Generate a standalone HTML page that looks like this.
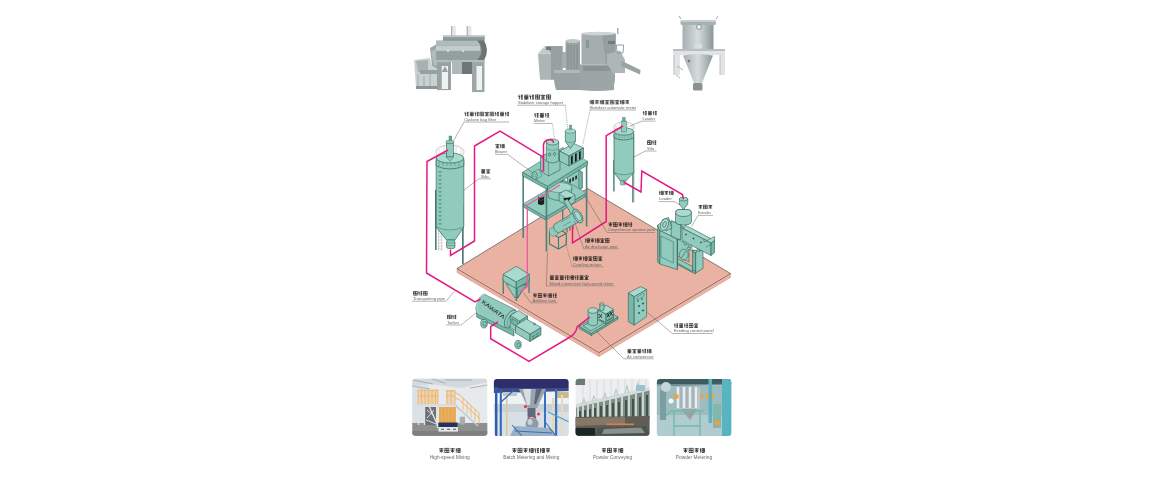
<!DOCTYPE html>
<html><head><meta charset="utf-8">
<style>
html,body{margin:0;padding:0;background:#fff;width:1150px;height:480px;overflow:hidden}
svg{display:block}
text{font-family:"Liberation Sans",sans-serif}
</style></head><body>
<svg width="1150" height="480" viewBox="0 0 1150 480">
<defs>
<symbol id="h0" viewBox="0 0 10 10"><path d="M1 2.2h8M5 1v8.5M1.5 5h7M2 8.5l2.5-2.5M8 8.5l-2.5-2.5" stroke="#222" stroke-width="1.45" fill="none"/></symbol>
<symbol id="h1" viewBox="0 0 10 10"><path d="M1.5 1v8.5M0.8 4h2.2M4.5 1.5h4.5v7.5h-4.5zM4.5 5.2h4.5M6.8 1.5v7.5" stroke="#222" stroke-width="1.45" fill="none"/></symbol>
<symbol id="h2" viewBox="0 0 10 10"><path d="M5 0.5v1.6M1 3.2v-1.1h8v1.1M2 4.8h6M2 7h6M1 9.2h8M5 3.5v5.7" stroke="#222" stroke-width="1.45" fill="none"/></symbol>
<symbol id="h3" viewBox="0 0 10 10"><path d="M1 1.5h8M2 3.5h6v4h-6zM2 5.5h6M5 3.5v6M1 9.2h8" stroke="#222" stroke-width="1.45" fill="none"/></symbol>
<symbol id="h4" viewBox="0 0 10 10"><path d="M2.5 0.8l-1.5 3M1 4.2h3M2.5 4v5.5M5 1.8h4M5 5h4M7 1v8.5M5 8.8h4" stroke="#222" stroke-width="1.45" fill="none"/></symbol>
<symbol id="h5" viewBox="0 0 10 10"><path d="M1 1.2h8v8h-8zM1 5.2h8M5 1.2v8M2.5 3l1 0.8M6.5 7l1 0.8" stroke="#222" stroke-width="1.45" fill="none"/></symbol>
<clipPath id="c1"><rect x="412.3" y="378.8" width="75" height="56.9" rx="3.2"/></clipPath>
<clipPath id="c2"><rect x="493.9" y="379" width="74.7" height="56.9" rx="3.2"/></clipPath>
<clipPath id="c3"><rect x="575.6" y="378.8" width="74" height="56.9" rx="3.2"/></clipPath>
<clipPath id="c4"><rect x="656.9" y="379" width="74.3" height="56.9" rx="3.2"/></clipPath>
<filter id="soft" x="-5%" y="-5%" width="110%" height="110%"><feGaussianBlur stdDeviation="0.35"/></filter>
<filter id="soft2" x="-2%" y="-2%" width="104%" height="104%"><feGaussianBlur stdDeviation="0.45"/></filter>
<linearGradient id="gm" x1="0" x2="1" y1="0" y2="0"><stop offset="0" stop-color="#a5b0b0"/><stop offset="0.5" stop-color="#d6dcdc"/><stop offset="1" stop-color="#8b9696"/></linearGradient>
<linearGradient id="gs" x1="0" x2="1" y1="0" y2="0"><stop offset="0" stop-color="#8e9aa0"/><stop offset="0.4" stop-color="#dfe5e8"/><stop offset="1" stop-color="#7d878c"/></linearGradient>
</defs>
<rect width="1150" height="480" fill="#fff"/>
<g id="topmachines" stroke="none" filter="url(#soft)">
<!-- ribbon mixer -->
<path d="M430,48 L437,44 L441,62 L439,70 L432,66 Z" fill="#9ca7a7"/>
<path d="M431,52 L436,49 L439,64 L434,66 Z" fill="#b2bcbc"/>
<path d="M414,60 L430,58 L432,66 L439,70 L439,88 L416,88 Z" fill="#cad1d1"/>
<path d="M416,61 L428,60 L428,72 L418,72 Z" fill="#a8b2b2"/>
<rect x="420" y="70" width="18" height="4" fill="#98a0a0"/>
<path d="M418,74v14 M424,76v12 M430,74v14" stroke="#9ca5a5" stroke-width="0.9"/>
<rect x="416" y="86" width="28" height="3" fill="#8c9595"/>
<rect x="451" y="26" width="4.8" height="9.6" rx="1" fill="#e2e7e7"/><rect x="451" y="26" width="1.2" height="9.6" fill="#a9b2b2"/>
<rect x="466.7" y="26" width="4.7" height="9.6" rx="1" fill="#e2e7e7"/><rect x="466.7" y="26" width="1.2" height="9.6" fill="#a9b2b2"/>
<rect x="443" y="35.6" width="41.7" height="5.4" fill="#8e9898"/>
<rect x="443" y="35.6" width="41.7" height="1.6" fill="#bcc4c4"/>
<path d="M436,40.5 L482,40.5 Q486,50 482,60.6 L436,60.6 Z" fill="#9aa5a5"/>
<rect x="436" y="41" width="44" height="4.5" fill="#b2bbbb"/>
<rect x="436" y="45.8" width="44" height="5" fill="#c4cbcb"/>
<rect x="436" y="51" width="44" height="9.6" fill="#949f9f"/>
<circle cx="448" cy="51" r="0.9" fill="#e9ecec"/><circle cx="463" cy="51" r="0.9" fill="#e9ecec"/>
<path d="M477,40.5 Q486,50 477,60.6 L484,60.6 Q490,50 484,40.5 Z" fill="#6a7474"/>
<rect x="437" y="60.6" width="14" height="29.5" fill="#98a2a2"/>
<path d="M441.7,66 L448,66 L448,89 L441.7,89 Z" fill="#f0f2f2"/>
<path d="M441.7,72 L445,66 L448,72" fill="#98a2a2"/>
<rect x="472" y="60.6" width="12.5" height="31.5" fill="#9da7a7"/>
<rect x="476.5" y="66" width="5.5" height="24" fill="#f0f2f2"/>
<rect x="436" y="60" width="49" height="2.2" fill="#b3bcbc"/>
<rect x="452" y="62" width="10" height="12" fill="#b0b9b9"/>
<rect x="462" y="62" width="10" height="12" fill="#6e7575"/>
<!-- high speed mixer -->
<path d="M545,46 L562.7,46 L562.7,79.7 L551,79.7 L551,53.4 Z" fill="#98a1a1"/>
<path d="M538,53.4 L551,53.4 L551,79.7 L540,79.7 Z" fill="#adb5b5"/>
<path d="M545,46 L551,53.4 L538,53.4 Z" fill="#c1c9c9"/>
<rect x="546" y="47" width="5" height="3" fill="#717b7b"/>
<path d="M554,70 L614,70 Q617,80 612,90 L556,90 Q553,80 554,70 Z" fill="#99a3a3"/>
<rect x="554" y="70" width="60" height="3" fill="#b0b9b9"/>
<rect x="565.6" y="41" width="14.4" height="29" fill="#98a2a2"/>
<ellipse cx="572.8" cy="41" rx="7.2" ry="2" fill="#c0c8c8"/>
<path d="M568,45v24 M571,45v24 M574,45v24 M577,45v24" stroke="#7e8888" stroke-width="0.8"/>
<rect x="562" y="52" width="4" height="16" fill="#a6aeae"/>
<path d="M581.5,33.5 Q598.5,31 615.7,33.5 L615.7,64.4 L581.5,64.4 Z" fill="#a5aeae"/>
<path d="M602,33 Q609,33 615.7,33.5 L615.7,64.4 L606,64.4 Z" fill="#959f9f"/>
<ellipse cx="598.6" cy="33.5" rx="17.1" ry="1.8" fill="#cfd5d5"/>
<rect x="608" y="41" width="7" height="3" fill="#727b7b"/>
<rect x="586" y="40" width="3" height="8" fill="#8b9595"/>
<path d="M580,64.4 L614,64.4 L614,90 Q597,92 580,90 Z" fill="#9ca6a6"/>
<rect x="583" y="66" width="28" height="5" fill="#8a9494"/>
<path d="M607,54 L620,50.5 L625,60 L625,73 L613,73 L607,64 Z" fill="#aeb6b6"/>
<path d="M616.4,45 L623.7,45 L623,53 L617,53 Z" fill="none" stroke="#8b9595" stroke-width="0.9"/>
<path d="M622,61 L640.5,70 L640,74.5 L621,66 Z" fill="#99a3a3"/>
<rect x="617" y="28" width="1.5" height="6" fill="#a6aeae"/>
<!-- vertical cooler -->
<path d="M682.5,23 Q698,20 713.5,23 L713.5,50 L682.5,50 Z" fill="url(#gm)"/>
<rect x="680.5" y="20.3" width="35.5" height="4.7" rx="1.5" fill="#a9b2b2"/>
<rect x="680.5" y="20.3" width="35.5" height="1.5" fill="#ccd3d3"/>
<path d="M681,19 L679,16 M716,19 L718,16" stroke="#98a0a0" stroke-width="0.9"/>
<circle cx="699" cy="27" r="2.4" fill="#f1f4f4" stroke="#7c8585" stroke-width="0.9"/>
<rect x="695" y="44" width="7" height="4" fill="#dae0e0"/>
<path d="M673,49 L725,49 L725,75 L720,75 L720,55 L680,55 L680,75 L674,75 Z" fill="#e0e4e4"/>
<path d="M673,49 L725,49 L725,51 L673,51 Z" fill="#b7bfbf"/>
<path d="M674,55v20 M720,55v20" stroke="#a6aeae" stroke-width="0.7"/>
<path d="M683,55.5 Q698,53 713,55.5 L702,83 L694,83 Z" fill="url(#gm)"/>
<circle cx="689" cy="61" r="1.3" fill="#6d7777"/>
<rect x="693" y="83" width="9.5" height="7.5" rx="1.5" fill="#899393"/>
<path d="M677,66 L683,70 M676,75 L680,78" stroke="#a6aeae" stroke-width="0.9"/>
</g><g id="platform" stroke-linejoin="round">
<polygon points="457,268.5 599,352.5 599,356.5 457,272.5" fill="#eeb1a1" stroke="#c99084" stroke-width="0.5"/>
<polygon points="599,352.5 730.5,273.5 730.5,277.5 599,356.5" fill="#eeb1a1" stroke="#c99084" stroke-width="0.5"/>
<polygon points="457,268.5 587.5,188.5 730.5,273.5 599,352.5" fill="#e9b2a2" stroke="#3b3b3b" stroke-width="0.6"/>
<polyline points="459,268.8 599,351.5 728.5,273.7" fill="none" stroke="#f2c2b4" stroke-width="0.6"/>
</g><g id="silo1">
<rect x="435" y="190" width="1.6" height="60" fill="#4a7d73"/>
<ellipse cx="450" cy="152" rx="14.2" ry="7" fill="none" stroke="#8a8a8a" stroke-width="0.45"/>
<path d="M439,149v7M444,146v8M456,146v8M461,149v7" stroke="#999" stroke-width="0.35"/>
<rect x="462" y="206" width="1.7" height="58" fill="#4a7d73"/>
<path d="M438.5,228v23M441.8,228v23M438.5,231h3.3M438.5,234h3.3M438.5,237h3.3M438.5,240h3.3M438.5,243h3.3M438.5,246h3.3M438.5,249h3.3" stroke="#9a9a9a" stroke-width="0.45" fill="none"/>
<path d="M436.2,160 L436.2,227 L446.5,240 L455,240 L463.8,227 L463.8,160 Z" fill="#90cbbe" stroke="#2f5c54" stroke-width="0.65"/>
<path d="M436.2,227 Q450,233 463.8,227" fill="none" stroke="#2f5c54" stroke-width="0.4"/>
<rect x="438.6" y="171" width="2.8" height="1.6" fill="#5e9a8d"/><rect x="438.6" y="175" width="2.8" height="1.6" fill="#5e9a8d"/><rect x="438.6" y="179" width="2.8" height="1.6" fill="#5e9a8d"/><rect x="438.6" y="183" width="2.8" height="1.6" fill="#5e9a8d"/><rect x="438.6" y="187" width="2.8" height="1.6" fill="#5e9a8d"/><rect x="438.6" y="191" width="2.8" height="1.6" fill="#5e9a8d"/><rect x="438.6" y="195" width="2.8" height="1.6" fill="#5e9a8d"/><rect x="438.6" y="199" width="2.8" height="1.6" fill="#5e9a8d"/><rect x="438.6" y="203" width="2.8" height="1.6" fill="#5e9a8d"/><rect x="438.6" y="207" width="2.8" height="1.6" fill="#5e9a8d"/><rect x="438.6" y="211" width="2.8" height="1.6" fill="#5e9a8d"/><rect x="438.6" y="215" width="2.8" height="1.6" fill="#5e9a8d"/><rect x="438.6" y="219" width="2.8" height="1.6" fill="#5e9a8d"/><rect x="438.6" y="223" width="2.8" height="1.6" fill="#5e9a8d"/>
<rect x="446.5" y="240" width="8.5" height="8.5" rx="2" fill="#90cbbe" stroke="#2f5c54" stroke-width="0.6"/>
<path d="M446.5,243h8.5M446.5,245.5h8.5" stroke="#2f5c54" stroke-width="0.35"/>
<path d="M436.2,158 L463.8,158 L463.8,166 Q450,172 436.2,166 Z" fill="#90cbbe" stroke="#2f5c54" stroke-width="0.65"/>
<line x1="439" y1="159.5" x2="439" y2="166" stroke="#2f5c54" stroke-width="0.35"/><line x1="443" y1="159.5" x2="443" y2="166" stroke="#2f5c54" stroke-width="0.35"/><line x1="447" y1="159.5" x2="447" y2="166" stroke="#2f5c54" stroke-width="0.35"/><line x1="451" y1="159.5" x2="451" y2="166" stroke="#2f5c54" stroke-width="0.35"/><line x1="455" y1="159.5" x2="455" y2="166" stroke="#2f5c54" stroke-width="0.35"/><line x1="459" y1="159.5" x2="459" y2="166" stroke="#2f5c54" stroke-width="0.35"/>
<ellipse cx="450" cy="158" rx="13.8" ry="5" fill="#a9dacf" stroke="#2f5c54" stroke-width="0.65"/>
<rect x="446.5" y="143" width="6.8" height="14" fill="#90cbbe" stroke="#2f5c54" stroke-width="0.6"/>
<path d="M446.5,157 L450,161.5 L453.3,157 Z" fill="#90cbbe" stroke="#2f5c54" stroke-width="0.4"/>
<rect x="446" y="140.5" width="7.8" height="2.8" rx="1" fill="#90cbbe" stroke="#2f5c54" stroke-width="0.4"/>
<rect x="449" y="136" width="2.8" height="4.6" fill="#6aa698" stroke="#2f5c54" stroke-width="0.35"/>
</g><g id="silo2">
<rect x="613.2" y="160" width="1.4" height="31.5" fill="#4a7d73"/>
<ellipse cx="624" cy="127" rx="10.2" ry="5" fill="none" stroke="#8a8a8a" stroke-width="0.45"/>
<path d="M616,125v6M620,123v7M628,123v7M632,125v6" stroke="#999" stroke-width="0.35"/>
<rect x="632.2" y="138" width="1.4" height="64.5" fill="#4a7d73"/>
<path d="M633.5,139h1.3M633.5,141h1.3M633.5,143h1.3M633.5,145h1.3M633.5,147h1.3M633.5,149h1.3M633.5,151h1.3M633.5,153h1.3M633.5,155h1.3M633.5,157h1.3M633.5,159h1.3M633.5,161h1.3M633.5,163h1.3M633.5,165h1.3M633.5,167h1.3M633.5,169h1.3M633.5,171h1.3M633.5,173h1.3M633.5,175h1.3M633.5,177h1.3M633.5,179h1.3M633.5,181h1.3M633.5,183h1.3M633.5,185h1.3M633.5,187h1.3M633.5,189h1.3M633.5,191h1.3M633.5,193h1.3M633.5,195h1.3M633.5,197h1.3M633.5,199h1.3M633.5,201h1.3" stroke="#4a7d73" stroke-width="0.5"/>
<path d="M614,134 L614,172.5 L620.3,181 L625.7,181 L633.7,172.5 L633.7,134 Z" fill="#90cbbe" stroke="#2f5c54" stroke-width="0.65"/>
<path d="M614,172.5 Q624,177 633.7,172.5" fill="none" stroke="#2f5c54" stroke-width="0.4"/>
<rect x="620.3" y="181" width="5.4" height="4" rx="1.2" fill="#90cbbe" stroke="#2f5c54" stroke-width="0.4"/>
<path d="M614,131.5 L633.7,131.5 L633.7,138 Q624,142 614,138 Z" fill="#90cbbe" stroke="#2f5c54" stroke-width="0.65"/>
<line x1="616" y1="133" x2="616" y2="138.5" stroke="#2f5c54" stroke-width="0.3"/><line x1="619" y1="133" x2="619" y2="138.5" stroke="#2f5c54" stroke-width="0.3"/><line x1="622" y1="133" x2="622" y2="138.5" stroke="#2f5c54" stroke-width="0.3"/><line x1="625" y1="133" x2="625" y2="138.5" stroke="#2f5c54" stroke-width="0.3"/><line x1="628" y1="133" x2="628" y2="138.5" stroke="#2f5c54" stroke-width="0.3"/><line x1="631" y1="133" x2="631" y2="138.5" stroke="#2f5c54" stroke-width="0.3"/>
<ellipse cx="623.9" cy="131.5" rx="9.85" ry="3.6" fill="#a9dacf" stroke="#2f5c54" stroke-width="0.6"/>
<rect x="621.4" y="121" width="5.1" height="11" fill="#90cbbe" stroke="#2f5c54" stroke-width="0.4"/>
<rect x="622.6" y="117.5" width="2.6" height="3.6" fill="#6aa698" stroke="#2f5c54" stroke-width="0.3"/>
</g><g id="frame" stroke-linejoin="round">
<rect x="562" y="150" width="1.4" height="80" fill="#4f8379"/>
<!-- control box with slots under upper shelf -->
<polygon points="567.5,176 578.7,170 582.2,172 582.2,188 578.7,190 567.5,184" fill="#90cbbe" stroke="#2f5c54" stroke-width="0.6"/>
<polygon points="578.7,170 582.2,172 582.2,188 578.7,190" fill="#77b7a9" stroke="#2f5c54" stroke-width="0.4"/>
<path d="M569.3,179.5 l1.6,-0.9 v3.6 l-1.6,0.9z M572.3,177.8 l1.6,-0.9 v3.6 l-1.6,0.9z M575.3,176.1 l1.6,-0.9 v3.6 l-1.6,0.9z" fill="#1b1b1b"/>
<!-- lower shelf -->
<polygon points="523.1,203.9 545.7,217 545.7,220 523.1,206.9" fill="#77b7a9" stroke="#2f5c54" stroke-width="0.5"/><polygon points="545.7,217 586.6,193 586.6,196 545.7,220" fill="#77b7a9" stroke="#2f5c54" stroke-width="0.5"/><polygon points="523.1,203.9 564.0,179.89999999999998 586.6,193 545.7,217" fill="#90cbbe" stroke="#2f5c54" stroke-width="0.5"/>
<!-- big bowl (high speed mixer) -->
<path d="M546.5,188 Q548,182 559,181 Q571,182 572,188 L570,198 Q559,203 549,198 Z" fill="#90cbbe" stroke="#2f5c54" stroke-width="0.6"/>
<ellipse cx="559.2" cy="187.5" rx="12.6" ry="5" fill="#a9dacf" stroke="#2f5c54" stroke-width="0.4"/>
<!-- mixer box on lower shelf -->
<polygon points="559,194 566,190 575,195 575,202 568,206 559,201" fill="#90cbbe" stroke="#2f5c54" stroke-width="0.6"/>
<polygon points="559,194 568,199 575,195 566,190" fill="#a9dacf" stroke="#2f5c54" stroke-width="0.4"/>
<polygon points="563,198.5 571.6,197 567,203" fill="#151515"/>
<!-- black canister -->
<path d="M538,196 L538,204 Q541.1,206 544.2,204 L544.2,196 Z" fill="#1e1e1e"/>
<ellipse cx="541.1" cy="196" rx="3.1" ry="1.4" fill="#90cbbe" stroke="#2f5c54" stroke-width="0.35"/>
<path d="M538,199.5 Q541.1,201 544.2,199.5" stroke="#888" stroke-width="0.4" fill="none"/>
<!-- legs -->
<rect x="522.4" y="172.8" width="1.6" height="65" fill="#4f8379"/>
<rect x="545.6" y="186.7" width="1.7" height="64.8" fill="#4f8379"/>
<rect x="585.8" y="161.2" width="1.6" height="65.3" fill="#4f8379"/>
<!-- chute -->
<polygon points="563.5,201 567.5,199 575.5,212 571.5,214.5" fill="#90cbbe" stroke="#2f5c54" stroke-width="0.6"/>
<!-- upper shelf -->
<polygon points="522.6,172.3 547.5,186.2 547.5,189.79999999999998 522.6,175.9" fill="#77b7a9" stroke="#2f5c54" stroke-width="0.5"/><polygon points="547.5,186.2 587.6,161.4 587.6,165.0 547.5,189.79999999999998" fill="#77b7a9" stroke="#2f5c54" stroke-width="0.5"/><polygon points="522.6,172.3 562.7,147.50000000000006 587.6,161.4 547.5,186.2" fill="#90cbbe" stroke="#2f5c54" stroke-width="0.5"/>
<polygon points="540.5,157 552,151 560,156 560,170 548.5,176 540.5,171" fill="#90cbbe" stroke="#2f5c54" stroke-width="0.6"/>
<polygon points="540.5,157 548.5,162 560,156 552,151" fill="#a9dacf" stroke="#2f5c54" stroke-width="0.4"/>
<line x1="548.5" y1="162" x2="548.5" y2="176" stroke="#2f5c54" stroke-width="0.4"/>
<path d="M546.3,142 L546.3,161 Q552.5,165 558.7,161 L558.7,142 Z" fill="#90cbbe" stroke="#2f5c54" stroke-width="0.6"/>
<path d="M546.3,148.5 Q552.5,152 558.7,148.5" fill="none" stroke="#2f5c54" stroke-width="0.35"/>
<ellipse cx="552.5" cy="142" rx="6.2" ry="3" fill="#a9dacf" stroke="#2f5c54" stroke-width="0.6"/>
<path d="M549.5,153 a1.2,1.5 0 1 0 0.1,0 M554.5,152.5 a1.2,1.5 0 1 0 0.1,0" fill="none" stroke="#2f5c54" stroke-width="0.65"/>
<polygon points="533,172 539,169 542,176 536,179.5" fill="#90cbbe" stroke="#2f5c54" stroke-width="0.4"/>
<ellipse cx="534.6" cy="175.6" rx="2.7" ry="3.8" fill="#a9dacf" stroke="#2f5c54" stroke-width="0.65"/>
<ellipse cx="534.6" cy="175.6" rx="1.4" ry="2.1" fill="#90cbbe" stroke="#2f5c54" stroke-width="0.35"/>
<polygon points="559.5,151 574,143.5 583.5,148 569,156" fill="#a9dacf" stroke="#2f5c54" stroke-width="0.6"/>
<polygon points="559.5,151 569,156 569,166 559.5,161" fill="#90cbbe" stroke="#2f5c54" stroke-width="0.6"/>
<polygon points="569,156 583.5,148 583.5,158 569,166" fill="#77b7a9" stroke="#2f5c54" stroke-width="0.6"/>
<path d="M571,156.2l1.7,-0.9v8l-1.7,0.9z M575,154l1.7,-0.9v8l-1.7,0.9z M579,151.8l1.7,-0.9v8l-1.7,0.9z" fill="#1b1b1b"/>
<path d="M565.3,131 L565.3,141.5 L570.4,148.4 L575.5,141.5 L575.5,131 Z" fill="#90cbbe" stroke="#2f5c54" stroke-width="0.6"/>
<ellipse cx="570.4" cy="131" rx="5.1" ry="2.2" fill="#a9dacf" stroke="#2f5c54" stroke-width="0.4"/>
<path d="M565.3,141.5 Q570.4,144 575.5,141.5" fill="none" stroke="#2f5c54" stroke-width="0.35"/>
<rect x="569.4" y="125" width="2.2" height="4.5" fill="#6aa698" stroke="#2f5c54" stroke-width="0.3"/>
<!-- cooling mixer -->
<path d="M549.5,232 L557,228 L566.3,233.5 L566.3,244.6 L558.5,249 L549.5,244 Z M549.5,232 L558.5,237.5 L566.3,233.5 M558.5,237.5 V249" fill="none" stroke="#3f7c70" stroke-width="1.1"/>
<polygon points="549.5,229 554,226.5 558.3,229 558.3,234 553.5,236.5 549.5,234" fill="#90cbbe" stroke="#2f5c54" stroke-width="0.4"/>
<path d="M554,224.5 L575.5,211.5 L580.5,221 L558.5,233 Q552,230 554,224.5 Z" fill="#90cbbe" stroke="#2f5c54" stroke-width="0.6"/>
<ellipse cx="577.8" cy="216" rx="3.9" ry="7.6" transform="rotate(-30 577.8 216)" fill="#90cbbe" stroke="#2f5c54" stroke-width="0.65"/>
<ellipse cx="578" cy="216" rx="2.3" ry="5.2" transform="rotate(-30 578 216)" fill="#a9dacf" stroke="#2f5c54" stroke-width="0.45"/>
<path d="M561,222 l9,-5.5 M563,226 l8,-4.5" stroke="#2f5c54" stroke-width="0.4"/>
<path d="M567,228.5 v4 M570,226.8 v4 M573,225 v4" stroke="#2f5c54" stroke-width="0.9"/>
</g><g id="extruder" stroke="#2f5c54" stroke-width="0.6" stroke-linejoin="round">
<!-- right leg -->
<polygon points="695.6,251 703,247 703,268.5 695.6,273" fill="#90cbbe"/>
<polygon points="692.5,249.5 695.6,251 695.6,273 692.5,271.5" fill="#77b7a9"/>
<!-- base rail -->
<polygon points="677.3,262 695.6,271.5 695.6,274 677.3,264.5" fill="#77b7a9"/>
<polygon points="677.3,258.5 692.5,266.5 692.5,271.5 677.3,263" fill="#90cbbe"/>
<!-- centre lower box -->
<polygon points="677.3,239 689,245 689,262 677.3,256" fill="#90cbbe"/>
<ellipse cx="683.8" cy="254.6" rx="4.4" ry="5.3" fill="#90cbbe"/>
<path d="M681.5,258 L686,251" stroke="#2f5c54" stroke-width="0.6"/>
<ellipse cx="689" cy="248.5" rx="1.8" ry="1.4" fill="#90cbbe"/><ellipse cx="695" cy="251.5" rx="1.6" ry="1.3" fill="#90cbbe"/><ellipse cx="700" cy="249.5" rx="1.6" ry="1.3" fill="#90cbbe"/>
<!-- barrel box -->
<polygon points="671.5,221 686,225.5 714.5,240.5 711,243 682,228" fill="#a9dacf"/>
<polygon points="682,228 711,243 711,255.5 682,240.5" fill="#90cbbe"/>
<polygon points="711,243 714.5,240.5 714.5,252.5 711,255.5" fill="#77b7a9"/>
<path d="M684,241.5 l2,1 v3 l-2,-1z M690,244.5 l2,1 v3 l-2,-1z M697,248 l2,1 v3 l-2,-1z" fill="#90cbbe" stroke="#2f5c54" stroke-width="0.4"/>
<polygon points="704,242 714.5,236.5 714.5,240.5 711,243 704,239" fill="#a9dacf"/>
<path d="M706,247 l6,-3.2" stroke="#2f5c54" stroke-width="0.5"/>
<circle cx="686" cy="234.5" r="0.65" fill="#2f5c54"/><circle cx="693.5" cy="238.5" r="0.65" fill="#2f5c54"/><circle cx="701" cy="242.5" r="0.65" fill="#2f5c54"/>
<!-- left cabinet -->
<polygon points="659.7,230.3 677.3,239 677.3,269.6 659.7,264" fill="#90cbbe"/>
<polygon points="657.7,225 659.7,230.3 659.7,264 657.7,262" fill="#77b7a9"/>
<polygon points="661,236 673.3,242 673.3,263 661,257" fill="none" stroke-width="0.5"/>
<polygon points="657.7,225 666,219.5 681,226 681,239.5 677.3,239 659.7,230.3" fill="#a9dacf"/>
<polygon points="671.2,220.8 680.7,225 680.7,239.5 677.3,239 671.2,236" fill="#90cbbe"/>
<line x1="677.3" y1="239" x2="677.3" y2="269.6"/>
<!-- motor disk -->
<polygon points="662,220 668.5,217.5 672,228 666,231" fill="#90cbbe"/>
<ellipse cx="664.5" cy="224.5" rx="3.8" ry="6.2" transform="rotate(20 664.5 224.5)" fill="#a9dacf"/>
<ellipse cx="664.5" cy="224.5" rx="1.6" ry="3" transform="rotate(20 664.5 224.5)" fill="none"/>
<!-- hopper -->
<path d="M675.5,213 Q675.5,210 678.5,209.5 L688.5,209.5 Q691.5,210 691.5,213 L691.5,221 Q691.5,224 688.5,224.5 L678.5,224.5 Q675.5,224 675.5,221 Z" fill="#90cbbe"/>
<path d="M675.5,213 Q675.5,210 678.5,209.5 L688.5,209.5 Q691.5,210 691.5,213 Q690,216.5 683.5,216.5 Q677,216.5 675.5,213 Z" fill="#a9dacf"/>
<path d="M681,224.5 L683.5,228.5 L686,224.5" fill="#90cbbe"/>
<!-- loader -->
<path d="M679.4,199 L679.4,204.5 L681,206 L683.5,210 L686,206 L687.8,204.5 L687.8,199 Z" fill="#90cbbe"/>
<ellipse cx="683.6" cy="199" rx="4.2" ry="1.9" fill="#a9dacf"/>
</g><g id="additive" stroke="#2f5c54" stroke-width="0.6" stroke-linejoin="round">
<rect x="502.6" y="278" width="1.4" height="16" fill="#4f8379" stroke="none"/>
<rect x="528.3" y="278" width="1.4" height="15" fill="#4f8379" stroke="none"/>
<polygon points="506,284 527,284 517.5,298 515,298" fill="#90cbbe"/>
<polygon points="517,287 527,284 517.5,298" fill="#77b7a9"/>
<rect x="515.6" y="285" width="1.5" height="16" fill="#4f8379" stroke="none"/>
<polygon points="503,274.4 516.25,281.9 516.25,288.5 503,281" fill="#90cbbe"/>
<polygon points="516.25,281.9 529.4,274.4 529.4,281 516.25,288.5" fill="#77b7a9"/>
<polygon points="503,274.4 516.25,266.3 529.4,274.4 516.25,281.9" fill="#a9dacf"/>
</g><g id="panel" stroke="#2f5c54" stroke-width="0.6">
<polygon points="628.3,293 634.2,296.5 634.2,325.2 628.3,321.6" fill="#77b7a9"/>
<polygon points="634.2,296.5 646.6,289.5 646.6,316.5 634.2,325.2" fill="#90cbbe"/>
<polygon points="628.3,293 640.5,286.6 646.6,289.5 634.2,296.5" fill="#a9dacf"/>
<polygon points="637,297 644,293 644,296 637,300" fill="none" stroke-width="0.4"/>
<circle cx="639" cy="306" r="0.7" fill="#234"/><circle cx="643" cy="303.5" r="0.7" fill="#234"/>
<circle cx="639" cy="313" r="0.7" fill="#234"/><circle cx="643" cy="310.5" r="0.7" fill="#234"/>
<circle cx="638" cy="301" r="0.5" fill="#234"/><circle cx="642" cy="299" r="0.5" fill="#234"/>
</g><g id="compressor" stroke="#2f5c54" stroke-width="0.6" stroke-linejoin="round">
<polygon points="579.2,326.4 591.4,333.4 591.4,335.4 579.2,328.4" fill="#77b7a9"/>
<polygon points="591.4,333.4 618,317 618,319 591.4,335.4" fill="#77b7a9"/>
<polygon points="579.2,326.4 606,310 618,317 591.4,333.4" fill="#90cbbe"/>
<polygon points="583,326 606,312 614,317 591,331" fill="#90cbbe"/>
<polygon points="598,310 606,314 606,324 598,320" fill="#90cbbe"/>
<polygon points="606,314 613.4,309.5 613.4,319 606,324" fill="#77b7a9"/>
<polygon points="598,310 606.4,305.3 613.4,309.5 606,314" fill="#a9dacf"/>
<path d="M599,314 l3,4 M602,314 l-3,4 M607,317 l2.5,-4 M609.5,317 l-2.5,-4 M610,315.5 l2.5,-4 M612.5,315.5 l-2.5,-4" stroke="#1b1b1b" stroke-width="0.8"/>
<path d="M599.5,319.5 l5,2.5 M607,321 l5.5,-3.5" stroke="#1b1b1b" stroke-width="0.6"/>
<path d="M588.1,310.5 L588.1,324 Q592.8,327.5 597.5,324 L597.5,310.5 Z" fill="#90cbbe"/>
<ellipse cx="592.8" cy="310.5" rx="4.7" ry="2.8" fill="#a9dacf"/>
<path d="M599.8,304 L599.8,310 Q601.9,311.5 604,310 L604,304 Z" fill="#90cbbe"/>
<ellipse cx="601.9" cy="304" rx="2.1" ry="1.3" fill="#a9dacf"/>
</g><g id="tanker" stroke="#2f5c54" stroke-width="0.6" stroke-linejoin="round">
<!-- chassis -->
<polygon points="476.7,313 480,311 514,331 514,336 480,318.7 476.7,317" fill="#77b7a9"/>
<ellipse cx="484" cy="323.6" rx="3.3" ry="4.4" fill="#90cbbe"/>
<ellipse cx="484.6" cy="323.8" rx="1.7" ry="2.4" fill="none"/>
<!-- tank -->
<path d="M484,294 L516,310 L505.3,328 L478,314.5 Q474,309 477.3,303 Q480,296 484,294 Z" fill="#90cbbe" stroke-width="0.5"/>
<path d="M484,294 Q478,297 477,304 Q476.5,311 479,314" fill="none" stroke="#a9dacf" stroke-width="1.2"/>
<ellipse cx="510.7" cy="319" rx="5" ry="9.8" transform="rotate(28 510.7 319)" fill="#90cbbe" stroke-width="0.6"/>
<ellipse cx="511.8" cy="319.6" rx="3.4" ry="7.6" transform="rotate(28 511.8 319.6)" fill="none" stroke-width="0.4"/>
<text x="0" y="0" font-size="5.6" fill="#151515" stroke="none" transform="translate(481.2 302.8) rotate(37)" textLength="27.5" lengthAdjust="spacingAndGlyphs">KAWATA</text>
<!-- cab back block -->
<polygon points="510.2,315.5 519.5,321 519.5,333 510.2,327.5" fill="#90cbbe"/>
<polygon points="519.5,321 527.5,316 527.5,328.5 519.5,333" fill="#77b7a9"/>
<polygon points="510.2,315.5 518.5,310.5 527.5,316 519.5,321" fill="#a9dacf"/>
<path d="M511.8,318.5 l6,3.5 v5 l-6,-3.5z" fill="#77b7a9"/>
<!-- hood -->
<polygon points="515.5,325.5 530,334 530,341.5 515.5,333" fill="#90cbbe"/>
<polygon points="530,334 541,327.5 541,335 530,341.5" fill="#77b7a9"/>
<polygon points="515.5,325.5 526.5,319 541,327.5 530,334" fill="#a9dacf"/>
<path d="M532,337 l2.8,-1.6 M535.8,334.8 l2.8,-1.6 M532,339.3 l7,-4" stroke="#2f5c54" stroke-width="0.65"/>
<ellipse cx="518" cy="344.6" rx="3.2" ry="4.2" fill="#90cbbe"/>
<ellipse cx="518.6" cy="344.8" rx="1.6" ry="2.3" fill="none"/>
<circle cx="534.5" cy="324" r="0.9" fill="#90cbbe"/>
</g><g id="pipes" stroke="#e5197f" stroke-width="1.5" fill="none" stroke-linejoin="miter">
<path d="M448,150 L427,161.5 L426.5,273 L475,302 L480.5,299"/>
<path d="M450.5,249.5 L450.5,255.5 L474.5,241 L474.5,146 L500,131 L544,157.7"/>
<path d="M541.4,171.4 L543.5,170.6 L543.5,144.6 Q544,140 550,139.5 Q553.5,139.5 553.5,143"/>
<path d="M520,291.7 L527.3,286.7 L527.3,205 L560,185" stroke="#ea5aa0" stroke-width="1.3"/>
<path d="M572.5,226.5 L572.5,242.8 L606.2,221.5 L606.2,135.7 L623,126"/>
<path d="M623.5,182 L641,192 L641.8,171 L682.5,194.5 L683.3,199.5"/>
<path d="M498,322 L490.7,326.7 L490.7,338.7 L529,361.3 L570,337 Q575.8,334 577.3,326.7 L589.7,317.2"/>
</g><g id="labels" opacity="0.999"><use href="#h4" x="464.20" y="111.40" width="5.0" height="5.0" opacity="1.0"/><use href="#h3" x="469.25" y="111.40" width="5.0" height="5.0" opacity="1.0"/><use href="#h4" x="474.30" y="111.40" width="5.0" height="5.0" opacity="1.0"/><use href="#h5" x="479.35" y="111.40" width="5.0" height="5.0" opacity="1.0"/><use href="#h2" x="484.40" y="111.40" width="5.0" height="5.0" opacity="1.0"/><use href="#h5" x="489.45" y="111.40" width="5.0" height="5.0" opacity="1.0"/><use href="#h4" x="494.50" y="111.40" width="5.0" height="5.0" opacity="1.0"/><use href="#h3" x="499.55" y="111.40" width="5.0" height="5.0" opacity="1.0"/><use href="#h4" x="504.60" y="111.40" width="5.0" height="5.0" opacity="1.0"/><text x="464.2" y="120.80" font-size="3.9" fill="#666" textLength="32" lengthAdjust="spacingAndGlyphs">Cyclone bag filter</text><line x1="464" y1="122" x2="509" y2="122" stroke="#777" stroke-width="0.55"/><polyline points="464,122 454,140" fill="none" stroke="#555" stroke-width="0.45"/><use href="#h2" x="495.00" y="143.60" width="4.8999999999999995" height="4.8999999999999995" opacity="1.0"/><use href="#h1" x="499.95" y="143.60" width="4.8999999999999995" height="4.8999999999999995" opacity="1.0"/><text x="495" y="153.20" font-size="3.9" fill="#666" textLength="12" lengthAdjust="spacingAndGlyphs">Blower</text><line x1="495" y1="154.4" x2="507.5" y2="154.4" stroke="#777" stroke-width="0.55"/><polyline points="507.5,154.4 533,173" fill="none" stroke="#555" stroke-width="0.45"/><use href="#h3" x="480.80" y="168.80" width="4.8999999999999995" height="4.8999999999999995" opacity="1.0"/><use href="#h2" x="485.75" y="168.80" width="4.8999999999999995" height="4.8999999999999995" opacity="1.0"/><text x="480.8" y="177.60" font-size="3.9" fill="#666" textLength="8" lengthAdjust="spacingAndGlyphs">Silo</text><line x1="479" y1="178.8" x2="491" y2="178.8" stroke="#777" stroke-width="0.55"/><polyline points="479,178.8 464,190" fill="none" stroke="#555" stroke-width="0.45"/><use href="#h4" x="518.00" y="94.20" width="5.5" height="5.5" opacity="1.0"/><use href="#h3" x="523.55" y="94.20" width="5.5" height="5.5" opacity="1.0"/><use href="#h4" x="529.10" y="94.20" width="5.5" height="5.5" opacity="1.0"/><use href="#h5" x="534.65" y="94.20" width="5.5" height="5.5" opacity="1.0"/><use href="#h2" x="540.20" y="94.20" width="5.5" height="5.5" opacity="1.0"/><use href="#h5" x="545.75" y="94.20" width="5.5" height="5.5" opacity="1.0"/><text x="518" y="104.00" font-size="3.9" fill="#666" textLength="45" lengthAdjust="spacingAndGlyphs">Stabilizer storage hopper</text><line x1="517" y1="105.2" x2="565.4" y2="105.2" stroke="#777" stroke-width="0.55"/><polyline points="565.4,105.2 567.6,128.5" fill="none" stroke="#555" stroke-width="0.45" stroke-dasharray="1.2,0.9"/><use href="#h4" x="534.00" y="112.60" width="5.2" height="5.2" opacity="1.0"/><use href="#h3" x="539.25" y="112.60" width="5.2" height="5.2" opacity="1.0"/><use href="#h4" x="544.50" y="112.60" width="5.2" height="5.2" opacity="1.0"/><text x="534" y="122.20" font-size="3.9" fill="#666" textLength="11" lengthAdjust="spacingAndGlyphs">Meter</text><line x1="534" y1="123.4" x2="552" y2="123.4" stroke="#777" stroke-width="0.55"/><polyline points="552.3,123.4 554.5,138" fill="none" stroke="#555" stroke-width="0.45" stroke-dasharray="1.2,0.9"/><use href="#h1" x="589.40" y="99.60" width="5.0" height="5.0" opacity="1.0"/><use href="#h0" x="594.45" y="99.60" width="5.0" height="5.0" opacity="1.0"/><use href="#h1" x="599.50" y="99.60" width="5.0" height="5.0" opacity="1.0"/><use href="#h2" x="604.55" y="99.60" width="5.0" height="5.0" opacity="1.0"/><use href="#h5" x="609.60" y="99.60" width="5.0" height="5.0" opacity="1.0"/><use href="#h2" x="614.65" y="99.60" width="5.0" height="5.0" opacity="1.0"/><use href="#h1" x="619.70" y="99.60" width="5.0" height="5.0" opacity="1.0"/><use href="#h0" x="624.75" y="99.60" width="5.0" height="5.0" opacity="1.0"/><text x="589.4" y="108.80" font-size="3.9" fill="#666" textLength="47" lengthAdjust="spacingAndGlyphs">Stabilizer automatic meter</text><line x1="589.4" y1="110" x2="636" y2="110" stroke="#777" stroke-width="0.55"/><polyline points="590,110 582.5,146" fill="none" stroke="#555" stroke-width="0.45" stroke-dasharray="1.2,0.9"/><use href="#h4" x="642.50" y="110.60" width="4.8999999999999995" height="4.8999999999999995" opacity="1.0"/><use href="#h3" x="647.45" y="110.60" width="4.8999999999999995" height="4.8999999999999995" opacity="1.0"/><use href="#h4" x="652.40" y="110.60" width="4.8999999999999995" height="4.8999999999999995" opacity="1.0"/><text x="642.5" y="119.90" font-size="3.9" fill="#666" textLength="12.5" lengthAdjust="spacingAndGlyphs">Loader</text><line x1="641.8" y1="121.1" x2="655.6" y2="121.1" stroke="#777" stroke-width="0.55"/><polyline points="641.8,121.1 629.4,126.3" fill="none" stroke="#555" stroke-width="0.45"/><use href="#h5" x="647.00" y="140.00" width="4.8999999999999995" height="4.8999999999999995" opacity="1.0"/><use href="#h4" x="651.95" y="140.00" width="4.8999999999999995" height="4.8999999999999995" opacity="1.0"/><text x="647" y="149.80" font-size="3.9" fill="#666" textLength="7" lengthAdjust="spacingAndGlyphs">Silo</text><line x1="645.4" y1="151" x2="656.4" y2="151" stroke="#777" stroke-width="0.55"/><polyline points="645.4,151 633.75,157" fill="none" stroke="#555" stroke-width="0.45"/><use href="#h1" x="659.00" y="190.40" width="4.8999999999999995" height="4.8999999999999995" opacity="1.0"/><use href="#h0" x="663.95" y="190.40" width="4.8999999999999995" height="4.8999999999999995" opacity="1.0"/><use href="#h1" x="668.90" y="190.40" width="4.8999999999999995" height="4.8999999999999995" opacity="1.0"/><text x="659" y="200.40" font-size="3.9" fill="#666" textLength="13" lengthAdjust="spacingAndGlyphs">Loader</text><line x1="658.5" y1="201.6" x2="674.6" y2="201.6" stroke="#777" stroke-width="0.55"/><polyline points="674.6,201.6 679.5,205" fill="none" stroke="#555" stroke-width="0.45"/><use href="#h0" x="698.00" y="204.40" width="4.8999999999999995" height="4.8999999999999995" opacity="1.0"/><use href="#h5" x="702.95" y="204.40" width="4.8999999999999995" height="4.8999999999999995" opacity="1.0"/><use href="#h0" x="707.90" y="204.40" width="4.8999999999999995" height="4.8999999999999995" opacity="1.0"/><text x="698" y="214.20" font-size="3.9" fill="#666" textLength="13" lengthAdjust="spacingAndGlyphs">Extruder</text><line x1="698" y1="215.4" x2="713" y2="215.4" stroke="#777" stroke-width="0.55"/><polyline points="698,215.4 691.6,226.3" fill="none" stroke="#555" stroke-width="0.45"/><use href="#h0" x="608.00" y="222.00" width="4.8999999999999995" height="4.8999999999999995" opacity="1.0"/><use href="#h5" x="612.95" y="222.00" width="4.8999999999999995" height="4.8999999999999995" opacity="1.0"/><use href="#h0" x="617.90" y="222.00" width="4.8999999999999995" height="4.8999999999999995" opacity="1.0"/><use href="#h1" x="622.85" y="222.00" width="4.8999999999999995" height="4.8999999999999995" opacity="1.0"/><use href="#h4" x="627.80" y="222.00" width="4.8999999999999995" height="4.8999999999999995" opacity="1.0"/><text x="608" y="231.30" font-size="3.9" fill="#666" textLength="47" lengthAdjust="spacingAndGlyphs">Comprehensive operation panel</text><line x1="607" y1="232.5" x2="655" y2="232.5" stroke="#777" stroke-width="0.55"/><polyline points="607,232.5 584.4,195" fill="none" stroke="#555" stroke-width="0.45"/><use href="#h1" x="585.00" y="238.00" width="4.8999999999999995" height="4.8999999999999995" opacity="1.0"/><use href="#h0" x="589.95" y="238.00" width="4.8999999999999995" height="4.8999999999999995" opacity="1.0"/><use href="#h1" x="594.90" y="238.00" width="4.8999999999999995" height="4.8999999999999995" opacity="1.0"/><use href="#h2" x="599.85" y="238.00" width="4.8999999999999995" height="4.8999999999999995" opacity="1.0"/><use href="#h5" x="604.80" y="238.00" width="4.8999999999999995" height="4.8999999999999995" opacity="1.0"/><text x="585" y="247.55" font-size="3.9" fill="#666" textLength="32.4" lengthAdjust="spacingAndGlyphs">Air discharge pipe</text><line x1="583.75" y1="248.75" x2="618.75" y2="248.75" stroke="#777" stroke-width="0.55"/><polyline points="583.75,248.75 574.4,221" fill="none" stroke="#555" stroke-width="0.45"/><use href="#h1" x="573.00" y="256.00" width="4.8999999999999995" height="4.8999999999999995" opacity="1.0"/><use href="#h0" x="577.95" y="256.00" width="4.8999999999999995" height="4.8999999999999995" opacity="1.0"/><use href="#h1" x="582.90" y="256.00" width="4.8999999999999995" height="4.8999999999999995" opacity="1.0"/><use href="#h2" x="587.85" y="256.00" width="4.8999999999999995" height="4.8999999999999995" opacity="1.0"/><use href="#h5" x="592.80" y="256.00" width="4.8999999999999995" height="4.8999999999999995" opacity="1.0"/><use href="#h2" x="597.75" y="256.00" width="4.8999999999999995" height="4.8999999999999995" opacity="1.0"/><text x="573" y="265.50" font-size="3.9" fill="#666" textLength="28" lengthAdjust="spacingAndGlyphs">Cooling mixer</text><line x1="572" y1="266.7" x2="603.5" y2="266.7" stroke="#777" stroke-width="0.55"/><polyline points="572,266.7 565,240" fill="none" stroke="#555" stroke-width="0.45" stroke-dasharray="1.2,0.9"/><use href="#h3" x="549.40" y="275.00" width="4.8999999999999995" height="4.8999999999999995" opacity="1.0"/><use href="#h2" x="554.35" y="275.00" width="4.8999999999999995" height="4.8999999999999995" opacity="1.0"/><use href="#h3" x="559.30" y="275.00" width="4.8999999999999995" height="4.8999999999999995" opacity="1.0"/><use href="#h4" x="564.25" y="275.00" width="4.8999999999999995" height="4.8999999999999995" opacity="1.0"/><use href="#h1" x="569.20" y="275.00" width="4.8999999999999995" height="4.8999999999999995" opacity="1.0"/><use href="#h4" x="574.15" y="275.00" width="4.8999999999999995" height="4.8999999999999995" opacity="1.0"/><use href="#h3" x="579.10" y="275.00" width="4.8999999999999995" height="4.8999999999999995" opacity="1.0"/><use href="#h2" x="584.05" y="275.00" width="4.8999999999999995" height="4.8999999999999995" opacity="1.0"/><text x="549.4" y="284.60" font-size="3.9" fill="#666" textLength="64" lengthAdjust="spacingAndGlyphs">Mixed connection high-speed mixer</text><line x1="546" y1="285.8" x2="614.6" y2="285.8" stroke="#777" stroke-width="0.55"/><polyline points="546.3,285.8 547.5,252.5" fill="none" stroke="#555" stroke-width="0.45"/><use href="#h0" x="532.50" y="293.00" width="4.8999999999999995" height="4.8999999999999995" opacity="1.0"/><use href="#h5" x="537.45" y="293.00" width="4.8999999999999995" height="4.8999999999999995" opacity="1.0"/><use href="#h0" x="542.40" y="293.00" width="4.8999999999999995" height="4.8999999999999995" opacity="1.0"/><use href="#h1" x="547.35" y="293.00" width="4.8999999999999995" height="4.8999999999999995" opacity="1.0"/><use href="#h4" x="552.30" y="293.00" width="4.8999999999999995" height="4.8999999999999995" opacity="1.0"/><text x="532.5" y="301.60" font-size="3.9" fill="#666" textLength="23.5" lengthAdjust="spacingAndGlyphs">Additive tank</text><line x1="530.8" y1="302.8" x2="557.5" y2="302.8" stroke="#777" stroke-width="0.55"/><polyline points="530.8,302.8 523.3,292.5" fill="none" stroke="#555" stroke-width="0.45"/><use href="#h5" x="413.00" y="290.80" width="4.8999999999999995" height="4.8999999999999995" opacity="1.0"/><use href="#h4" x="417.95" y="290.80" width="4.8999999999999995" height="4.8999999999999995" opacity="1.0"/><use href="#h5" x="422.90" y="290.80" width="4.8999999999999995" height="4.8999999999999995" opacity="1.0"/><text x="413" y="300.00" font-size="3.9" fill="#666" textLength="32" lengthAdjust="spacingAndGlyphs">Transporting pipe</text><line x1="412" y1="301.2" x2="446" y2="301.2" stroke="#777" stroke-width="0.55"/><polyline points="446,301.2 454.4,291.25" fill="none" stroke="#555" stroke-width="0.45"/><use href="#h5" x="447.00" y="314.40" width="4.8999999999999995" height="4.8999999999999995" opacity="1.0"/><use href="#h4" x="451.95" y="314.40" width="4.8999999999999995" height="4.8999999999999995" opacity="1.0"/><text x="447" y="323.80" font-size="3.9" fill="#666" textLength="12" lengthAdjust="spacingAndGlyphs">Tanker</text><line x1="446" y1="325" x2="461" y2="325" stroke="#777" stroke-width="0.55"/><polyline points="461,325 477,312" fill="none" stroke="#555" stroke-width="0.45"/><use href="#h3" x="627.00" y="348.60" width="4.8999999999999995" height="4.8999999999999995" opacity="1.0"/><use href="#h2" x="631.95" y="348.60" width="4.8999999999999995" height="4.8999999999999995" opacity="1.0"/><use href="#h3" x="636.90" y="348.60" width="4.8999999999999995" height="4.8999999999999995" opacity="1.0"/><use href="#h4" x="641.85" y="348.60" width="4.8999999999999995" height="4.8999999999999995" opacity="1.0"/><use href="#h1" x="646.80" y="348.60" width="4.8999999999999995" height="4.8999999999999995" opacity="1.0"/><text x="627" y="357.55" font-size="3.9" fill="#666" textLength="26.7" lengthAdjust="spacingAndGlyphs">Air compressor</text><line x1="623.75" y1="358.75" x2="653.75" y2="358.75" stroke="#777" stroke-width="0.55"/><polyline points="623.75,358.75 600,335 596,330" fill="none" stroke="#555" stroke-width="0.45"/><use href="#h4" x="673.80" y="323.00" width="4.8999999999999995" height="4.8999999999999995" opacity="1.0"/><use href="#h3" x="678.75" y="323.00" width="4.8999999999999995" height="4.8999999999999995" opacity="1.0"/><use href="#h4" x="683.70" y="323.00" width="4.8999999999999995" height="4.8999999999999995" opacity="1.0"/><use href="#h5" x="688.65" y="323.00" width="4.8999999999999995" height="4.8999999999999995" opacity="1.0"/><use href="#h2" x="693.60" y="323.00" width="4.8999999999999995" height="4.8999999999999995" opacity="1.0"/><text x="673.8" y="332.30" font-size="3.9" fill="#666" textLength="40" lengthAdjust="spacingAndGlyphs">Feeding control panel</text><line x1="672.3" y1="333.5" x2="712.7" y2="333.5" stroke="#777" stroke-width="0.55"/><polyline points="672.3,333.5 647.5,312.5" fill="none" stroke="#555" stroke-width="0.45"/></g><g id="photos" filter="url(#soft2)">
<g clip-path="url(#c1)">
<rect x="412" y="378" width="76" height="58" fill="#e6eaec"/>
<rect x="412" y="384" width="16" height="40" fill="#dae2e6"/>
<polygon points="412,378 488,378 488,382 460,388 430,384 412,386" fill="#d3d9dc"/>
<path d="M413,380 L433,384 M432,379 L445,383 M445,380 L472,380 M470,388 L488,385 M412,386 L430,389" stroke="#8a9095" stroke-width="0.6"/>
<rect x="412" y="423" width="76" height="13" fill="#8e908f"/>
<rect x="412" y="431" width="76" height="5" fill="#7e807f"/>
<!-- under deck structure -->
<rect x="425" y="407" width="11" height="18" fill="#6c7074"/>
<path d="M427,410 L434,416 M434,410 L427,418 M426,420 L436,424" stroke="#d8dcde" stroke-width="1"/>
<path d="M418.5,405v20 M424.5,405v20 M437.5,405v23" stroke="#e0e3e5" stroke-width="1.4"/>
<path d="M429,406 L438,426" stroke="#e6e9ea" stroke-width="1.3"/>
<!-- upper rail -->
<rect x="418" y="390" width="20" height="14" fill="#ecd2ae"/>
<path d="M418,390 H438 M418,396 H438 M418,390v14 M421.5,390v14 M425,390v14 M428.5,390v14 M432,390v14 M435.5,390v14 M438,389v15" stroke="#eeb064" stroke-width="0.8" fill="none"/>
<rect x="446" y="390" width="9" height="14" fill="#ead6b8"/>
<path d="M446,391 H455 M446,396 H455 M447,390v14 M451,390v14 M455,390v14" stroke="#eeb064" stroke-width="0.8" fill="none"/>
<rect x="417" y="404" width="40" height="2.4" fill="#d7dbdd"/>
<!-- stairs -->
<path d="M455,392.5 L459,394.3 L479,413 L479,424 M455,398 L459,399.5 L479,418" fill="none" stroke="#f0b060" stroke-width="0.9"/>
<path d="M463,398v12 M467,402v12 M471,405.5v12 M475,409v12" stroke="#f0b060" stroke-width="0.7"/>
<path d="M456,406 L478,426" stroke="#c4c8ca" stroke-width="1.6"/>
<rect x="459.7" y="416.7" width="5.3" height="7.8" fill="#a9adab"/>
<!-- orange cage -->
<rect x="439" y="407" width="17" height="16" fill="#e6b060"/>
<path d="M440,407v16 M443.5,407v16 M447,407v16 M450.5,407v16 M454,407v16" stroke="#f2a030" stroke-width="1"/>
<path d="M441.5,409v12 M445,409v12 M449,409v12" stroke="#c9b18a" stroke-width="0.6"/>
<rect x="438.5" y="422.5" width="19" height="4.5" fill="#25305a"/>
<rect x="438.5" y="427" width="19.5" height="4.6" fill="#e6e9eb"/>
<path d="M441,429.3h3M447,429.3h3M453,429.3h3" stroke="#555" stroke-width="1.1"/>
</g>
<g clip-path="url(#c2)">
<rect x="493" y="379" width="76" height="58" fill="#dfe5ea"/>
<rect x="493" y="392" width="76" height="12" fill="#eef2f4"/>
<rect x="493" y="404" width="76" height="8" fill="#c8d2d8"/>
<rect x="493" y="412" width="76" height="24" fill="#d8e0e6"/>
<rect x="493" y="379" width="76" height="9" fill="#2e2f6c"/>
<polygon points="493,388 569,388 569,391 493,393" fill="#3f4d8a"/>
<rect x="503" y="392" width="14" height="4" fill="#b8c8d0"/>
<rect x="557" y="392" width="12" height="6" fill="#cbb98c"/>
<rect x="552" y="398" width="2.5" height="38" fill="#e6d8b0"/>
<rect x="561" y="395" width="2" height="41" fill="#e8dcb8"/>
<rect x="506" y="394" width="1.5" height="42" fill="#d9c99e"/>
<rect x="495" y="387" width="2.4" height="49" fill="#2f5cb0"/>
<rect x="499.8" y="390" width="2" height="46" fill="#3465b8"/>
<path d="M500,403 L514,390" stroke="#3868ba" stroke-width="1.4"/>
<rect x="544" y="391" width="2" height="45" fill="#3b6fc0"/>
<rect x="555" y="389" width="2.2" height="47" fill="#3b6fc0"/>
<path d="M548,412 L569,422" stroke="#4aa0d8" stroke-width="1.2"/>
<polygon points="519,389 546,389 537,408 528,408" fill="#9aa4b0"/>
<polygon points="523,389 531,389 530,405 527,405" fill="#d8dde2"/>
<polygon points="536,389 542,389 536,404 534,404" fill="#5e6878"/>
<rect x="527.5" y="408" width="8" height="9" fill="#606a7a"/>
<circle cx="525.5" cy="406.5" r="1.6" fill="#d83a3a"/><circle cx="538.5" cy="414" r="1.5" fill="#d83a3a"/><circle cx="529" cy="418.5" r="1.5" fill="#d83a3a"/><circle cx="535" cy="417.5" r="1.3" fill="#d83a3a"/>
<ellipse cx="532" cy="424" rx="6.5" ry="6.5" fill="#8e9aaa"/>
<ellipse cx="530" cy="422" rx="2.5" ry="3" fill="#c8d0da"/>
<polygon points="515,426 550,428 557,436 510,436" fill="#9ab0c4"/>
<path d="M512,425 L522,436 M546,423 L556,436 M515,431 L552,433" stroke="#3b6fc0" stroke-width="1.1" fill="none"/>
</g>
<g clip-path="url(#c3)">
<rect x="575" y="378" width="76" height="58" fill="#eceef0"/>
<path d="M583,380v24 M590,380v22 M597,380v21 M604,379v19 M611,379v18 M618,379v16 M625,379v15 M632,379v13 M639,379v12 M646,379v11" stroke="#dde1e4" stroke-width="1.4"/>
<rect x="575" y="378" width="10" height="7" fill="#6a7a74"/>
<polygon points="576,407 650,390 650,419 576,421" fill="#7d8e86"/>
<path d="M578,407v13 M583,406v14 M588,405v15 M593,404v16 M598,402v18 M604,401v19 M610,399v20 M616,398v21 M622,397v22 M629,395v24 M636,394v25 M643,392v27" stroke="#e8ecea" stroke-width="1.5"/>
<path d="M580,411v8 M585,410v9 M590,409v10 M595,408v11 M601,406v13 M607,405v14 M613,403v16 M619,402v17 M626,400v19 M633,399v20 M640,397v22 M647,395v24" stroke="#2f3f38" stroke-width="1.5"/>
<polygon points="576,404 650,387 650,390.5 576,407.5" fill="#d5dbd8"/>
<path d="M582,404 l2,-5 l2,5 M592,401 l2,-5 l2,5 M603,399 l2,-6 l2,6 M614,396 l2,-6 l2,6 M625,393 l2,-7 l2,7 M636,390 l2,-7 l2,7" stroke="#bfc6c6" stroke-width="1.1" fill="none"/>
<rect x="636" y="385" width="9" height="6" fill="#9cc2d0"/>
<polygon points="575,417 650,416 650,436 575,436" fill="#5f5d55"/>
<polygon points="575,418 625,417 625,424 575,426" fill="#857868"/>
<rect x="606" y="423.5" width="28" height="1.6" fill="#d8804e"/>
<polygon points="598,428 646,426 650,436 594,436" fill="#4a534f"/>
<polygon points="604,429 641,427.5 645,433 602,434" fill="#8a918d"/>
<rect x="575" y="428" width="20" height="8" fill="#1e2725"/>
</g>
<g clip-path="url(#c4)">
<rect x="656" y="379" width="76" height="58" fill="#a4c2c6"/>
<rect x="656" y="379" width="76" height="5.5" fill="#3d5c60"/><path d="M656,386 L732,384" stroke="#6f9094" stroke-width="1"/>
<rect x="656" y="386" width="76" height="29" fill="#9cbcc0"/>
<rect x="656" y="415" width="76" height="21" fill="#b0ccd0"/>
<rect x="660" y="390" width="6" height="30" fill="#7c9ea2"/>
<circle cx="666" cy="387" r="5" fill="#c3d6d9"/>
<circle cx="671" cy="401" r="2.5" fill="#f4fbfb"/>
<rect x="676" y="387" width="24" height="22" fill="#b9c6cc"/>
<path d="M678,387v21 M684,387v21 M690,387v21 M696,387v21" stroke="#e8eef0" stroke-width="2"/>
<path d="M681,387v21 M687,387v21 M693,387v21" stroke="#8a979e" stroke-width="0.8"/>
<rect x="673.5" y="394.5" width="5" height="4" fill="#f0a040"/><rect x="700" y="394.5" width="3" height="4" fill="#f0a040"/><rect x="706" y="394" width="8" height="4.5" fill="#f4a83c"/>
<polygon points="681,409 697,409 690,420" fill="#98a2a6"/>
<path d="M671,411 L704,411 M674,411v25 M700,411v25 M674,426h26 M671,411 L666,416" stroke="#72bca2" stroke-width="1.4" fill="none"/>
<rect x="722" y="379" width="10" height="57" fill="#58b4c0"/>
<rect x="708.5" y="379" width="3.6" height="44" fill="#5eb2bd"/>
<rect x="713" y="404" width="8" height="24" fill="#82b8aa"/>
<rect x="714" y="421" width="6" height="4" fill="#e8a040"/>
</g>
</g><g id="captions" opacity="0.999"><use href="#h0" x="438.60" y="447.60" width="5.4" height="5.4" opacity="1.0"/><use href="#h5" x="444.20" y="447.60" width="5.4" height="5.4" opacity="1.0"/><use href="#h0" x="449.80" y="447.60" width="5.4" height="5.4" opacity="1.0"/><use href="#h1" x="455.40" y="447.60" width="5.4" height="5.4" opacity="1.0"/><text x="449.8" y="459" font-size="4.6" fill="#6a6a6a" text-anchor="middle" textLength="40" lengthAdjust="spacingAndGlyphs">High-speed Mixing</text><use href="#h0" x="511.70" y="447.60" width="5.4" height="5.4" opacity="1.0"/><use href="#h5" x="517.30" y="447.60" width="5.4" height="5.4" opacity="1.0"/><use href="#h0" x="522.90" y="447.60" width="5.4" height="5.4" opacity="1.0"/><use href="#h1" x="528.50" y="447.60" width="5.4" height="5.4" opacity="1.0"/><use href="#h4" x="534.10" y="447.60" width="5.4" height="5.4" opacity="1.0"/><use href="#h1" x="539.70" y="447.60" width="5.4" height="5.4" opacity="1.0"/><use href="#h0" x="545.30" y="447.60" width="5.4" height="5.4" opacity="1.0"/><text x="531.3" y="459" font-size="4.6" fill="#6a6a6a" text-anchor="middle" textLength="56" lengthAdjust="spacingAndGlyphs">Batch Metering and Mixing</text><use href="#h0" x="601.30" y="447.60" width="5.4" height="5.4" opacity="1.0"/><use href="#h5" x="606.90" y="447.60" width="5.4" height="5.4" opacity="1.0"/><use href="#h0" x="612.50" y="447.60" width="5.4" height="5.4" opacity="1.0"/><use href="#h1" x="618.10" y="447.60" width="5.4" height="5.4" opacity="1.0"/><text x="612.5" y="459" font-size="4.6" fill="#6a6a6a" text-anchor="middle" textLength="39" lengthAdjust="spacingAndGlyphs">Powder Conveying</text><use href="#h0" x="682.80" y="447.60" width="5.4" height="5.4" opacity="1.0"/><use href="#h5" x="688.40" y="447.60" width="5.4" height="5.4" opacity="1.0"/><use href="#h0" x="694.00" y="447.60" width="5.4" height="5.4" opacity="1.0"/><use href="#h1" x="699.60" y="447.60" width="5.4" height="5.4" opacity="1.0"/><text x="694" y="459" font-size="4.6" fill="#6a6a6a" text-anchor="middle" textLength="36.5" lengthAdjust="spacingAndGlyphs">Powder Metering</text></g></svg>
</body></html>
